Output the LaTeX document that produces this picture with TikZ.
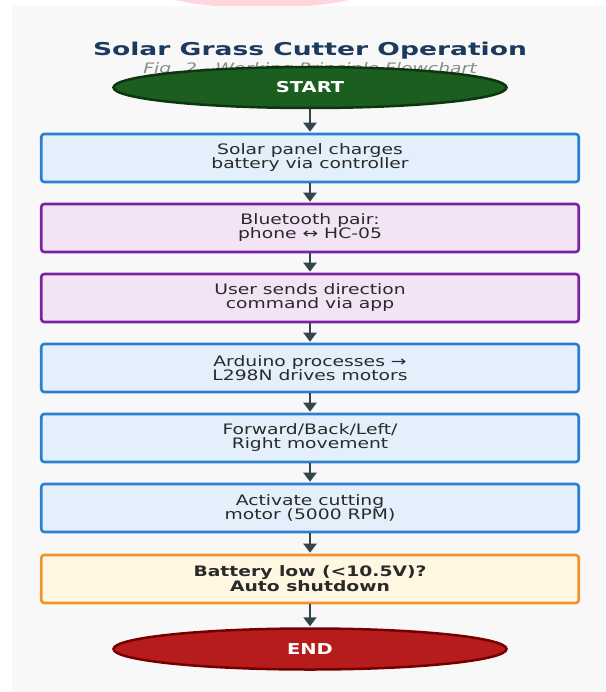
\documentclass[tikz,border=0pt]{standalone}
\usepackage{fontspec}
\usetikzlibrary{shapes.geometric,arrows.meta}
\newfontfamily\bodyfont{DejaVu Sans}[FakeStretch=1.3]
\newfontfamily\headfont{DejaVu Sans}[FakeStretch=1.5]
\definecolor{panelc}{HTML}{F8F8F8}
\definecolor{pinkc}{HTML}{FFD6DD}
\definecolor{titlec}{HTML}{1C3A5E}
\definecolor{subc}{HTML}{8A8A8A}
\definecolor{textc}{HTML}{2A2A2A}
\definecolor{arrc}{HTML}{34444C}
\definecolor{greenf}{HTML}{1B5E20}
\definecolor{greenb}{HTML}{0C360F}
\definecolor{redf}{HTML}{B71C1C}
\definecolor{redb}{HTML}{750000}
\definecolor{bluef}{HTML}{E3F0FC}
\definecolor{blueb}{HTML}{2B7FD0}
\definecolor{purf}{HTML}{F3E4F5}
\definecolor{purb}{HTML}{7B22A0}
\definecolor{oraf}{HTML}{FFF7E2}
\definecolor{orab}{HTML}{F0922E}
\begin{document}
\begin{tikzpicture}[x=1pt,y=-1pt,
  box/.style={draw, rounded corners=3pt, line width=2.6pt, minimum width=537.5pt, minimum height=48pt,
    inner sep=0pt, align=center, text=textc, font=\bodyfont\fontsize{14.4}{14}\selectfont},
  bluebox/.style={box, draw=blueb, fill=bluef},
  purbox/.style={box, draw=purb, fill=purf},
  orabox/.style={box, draw=orab, fill=oraf, font=\bodyfont\bfseries\fontsize{14.4}{14}\selectfont},
  term/.style={ellipse, line width=2.5pt, minimum width=393pt, minimum height=41pt, inner sep=0pt,
    text=white, font=\bodyfont\bfseries\fontsize{15}{15}\selectfont},
  arr/.style={draw=arrc, line width=2.8pt, -{Triangle[length=9pt,width=13pt]}, shorten >=1pt}
]
\useasboundingbox (0,0) rectangle (605,692);
\fill[white] (0,0) rectangle (605,692);
\fill[pinkc] (262,-12) ellipse [x radius=108pt, y radius=20pt];
\fill[panelc] (12,6) rectangle (605,692);

\node[anchor=base, text=titlec, font=\headfont\bfseries\fontsize{17.7}{18}\selectfont] (title) at (310,56) {Solar Grass Cutter Operation};
\node[anchor=base, text=subc, font=\bodyfont\itshape\fontsize{14.4}{14}\selectfont] (sub) at (310,74) {Fig. 2 - Working Principle Flowchart};

\node[term, draw=greenb, fill=greenf] (start) at (310,87.5) {START};
\node[bluebox] (b1) at (310,158) {Solar panel charges\\battery via controller};
\node[purbox] (b2) at (310,228) {Bluetooth pair:\\phone ↔ HC-05};
\node[purbox] (b3) at (310,298) {User sends direction\\command via app};
\node[bluebox] (b4) at (310,368) {Arduino processes →\\L298N drives motors};
\node[bluebox] (b5) at (310,438) {Forward/Back/Left/\\Right movement};
\node[bluebox] (b6) at (310,508) {Activate cutting\\motor (5000 RPM)};
\node[orabox] (b7) at (310,579) {Battery low (<10.5V)?\\Auto shutdown};
\node[term, draw=redb, fill=redf] (end) at (310,649) {END};

\draw[arr] (start) -- (b1);
\draw[arr] (b1) -- (b2);
\draw[arr] (b2) -- (b3);
\draw[arr] (b3) -- (b4);
\draw[arr] (b4) -- (b5);
\draw[arr] (b5) -- (b6);
\draw[arr] (b6) -- (b7);
\draw[arr] (b7) -- (end);
\end{tikzpicture}
\end{document}
